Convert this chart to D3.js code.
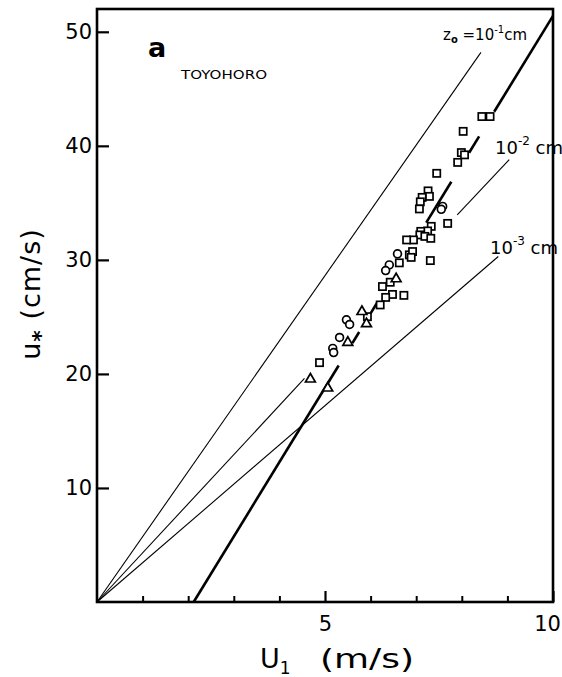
<!DOCTYPE html>
<html><head><meta charset="utf-8">
<script src="https://cdn.jsdelivr.net/npm/d3@7"></script>
<style>body{margin:0;background:#fff}svg{display:block}</style>
</head><body>
<script>
// ---- data ----
const xTicksMinor = [1,2,3,4,5,6,7,8,9];
const xTickLabels = [5, 10];
const yTickLabels = [10, 20, 30, 40, 50];

const squares = [
  [8.44,42.57],[8.62,42.57],[8.03,41.27],[7.99,39.41],[8.06,39.21],[7.91,38.55],
  [7.45,37.59],[7.26,36.05],[7.29,35.57],[7.13,35.48],[7.09,35.09],[7.07,34.47],
  [7.69,33.20],[7.33,32.94],[7.25,32.54],[7.10,32.50],[7.08,32.19],[7.19,32.06],
  [7.32,31.89],[6.94,31.75],[6.79,31.75],[6.85,30.44],[6.92,30.73],[6.89,30.22],
  [7.31,29.94],[6.63,29.74],[6.43,28.04],[6.26,27.66],[6.48,26.97],[6.33,26.71],
  [6.21,26.05],[6.73,26.89],[5.93,25.02],[4.88,20.99]
];
const circles = [
  [7.58,34.69],[7.55,34.43],[6.59,30.53],[6.41,29.56],[6.33,29.06],
  [5.47,24.74],[5.54,24.34],[5.32,23.20],[5.17,22.24],[5.19,21.87]
];
const triangles = [
  [6.56,28.33],[5.81,25.46],[5.91,24.39],[5.50,22.76],[4.68,19.54],[5.06,18.75]
];

// roughness-length reference lines (u* vs U1), as drawn segments
const z0Lines = [
  {label:"1e-1", segs:[[[0,0],[8.42,48.2]]]},
  {label:"1e-2", segs:[[[0,0],[4.55,19.6]],[[7.90,33.95],[9.04,38.8]]]},
  {label:"1e-3", segs:[[[0,0],[8.80,30.3]]]}
];
// fitted (thick) line endpoints and the x-ranges where it is drawn
const fitLine = [[2.12,0],[10.0,51.4]];
const fitVisible = [[2.12,5.30],[5.60,5.75],[6.00,6.14],[7.22,7.77],[8.16,8.38],[8.71,10.0]];

// ---- drawing ----
const W = 562, H = 677;
const svg = d3.select("body").append("svg").attr("width", W).attr("height", H);
const x = d3.scaleLinear([0,10],[97,553]);
const y = d3.scaleLinear([0,52],[602,9]);
const font = "DejaVu Sans, sans-serif";

// frame
svg.append("rect").attr("x", x(0)).attr("y", y(52)).attr("width", x(10)-x(0)).attr("height", y(0)-y(52))
  .attr("fill","none").attr("stroke","#000").attr("stroke-width",2.6);

// x axis minor ticks
const gxm = svg.append("g").attr("transform",`translate(0,${y(0)})`)
  .call(d3.axisBottom(x).tickValues(xTicksMinor.filter(v=>v!==5)).tickSize(-6).tickFormat(""));
gxm.select(".domain").remove();
gxm.selectAll("line").attr("stroke-width",2);
// x axis labeled ticks
const gx = svg.append("g").attr("transform",`translate(0,${y(0)})`)
  .call(d3.axisBottom(x).tickValues(xTickLabels).tickSize(-11).tickPadding(14).tickFormat(d3.format("d")));
gx.select(".domain").remove();
gx.selectAll("line").attr("stroke-width",2.2);
gx.selectAll("text").attr("font-family",font).attr("font-size",21).attr("fill","#000");
gx.selectAll(".tick").filter(d=>d===10).select("text").attr("dx",-6);

// y axis
const gy = svg.append("g").attr("transform",`translate(${x(0)},0)`)
  .call(d3.axisLeft(y).tickValues(yTickLabels).tickSize(-12).tickPadding(5).tickFormat(d3.format("d")));
gy.select(".domain").remove();
gy.selectAll("line").attr("stroke-width",2.2);
gy.selectAll("text").attr("font-family",font).attr("font-size",21).attr("fill","#000");

// z0 lines
const line = d3.line().x(d=>x(d[0])).y(d=>y(d[1]));
z0Lines.forEach(l=>{
  l.segs.forEach(s=>{
    svg.append("path").attr("d", line(s)).attr("fill","none").attr("stroke","#000").attr("stroke-width",1.1);
  });
});

// fitted thick line (broken where points are)
const slope = (fitLine[1][1]-fitLine[0][1])/(fitLine[1][0]-fitLine[0][0]);
const fy = xv => fitLine[0][1] + slope*(xv - fitLine[0][0]);
fitVisible.forEach(r=>{
  svg.append("path").attr("d", line([[r[0],fy(r[0])],[r[1],fy(r[1])]]))
    .attr("fill","none").attr("stroke","#000").attr("stroke-width",2.6);
});

// markers
const mk = {fill:"#fff", stroke:"#000", sw:1.7};
svg.append("g").selectAll("rect").data(squares).join("rect")
  .attr("x",d=>x(d[0])-3.6).attr("y",d=>y(d[1])-3.6).attr("width",7.2).attr("height",7.2)
  .attr("fill",mk.fill).attr("stroke",mk.stroke).attr("stroke-width",mk.sw);
svg.append("g").selectAll("circle").data(circles).join("circle")
  .attr("cx",d=>x(d[0])).attr("cy",d=>y(d[1])).attr("r",3.9)
  .attr("fill",mk.fill).attr("stroke",mk.stroke).attr("stroke-width",mk.sw);
const tri = d3.symbol().type(d3.symbolTriangle).size(42);
svg.append("g").selectAll("path").data(triangles).join("path")
  .attr("d",tri).attr("transform",d=>`translate(${x(d[0])},${y(d[1])})`)
  .attr("fill",mk.fill).attr("stroke",mk.stroke).attr("stroke-width",mk.sw);

// panel labels
svg.append("text").attr("x",148).attr("y",57).attr("font-family",font).attr("font-size",27)
  .attr("font-weight","bold").text("a");
svg.append("text").attr("x",181).attr("y",79).attr("font-family",font).attr("font-size",13)
  .attr("textLength",86).attr("lengthAdjust","spacingAndGlyphs").text("TOYOHORO");

// line labels
const t1 = svg.append("text").attr("x",443).attr("y",40).attr("font-family",font).attr("font-size",15);
t1.append("tspan").text("z");
t1.append("tspan").attr("font-size",10).attr("dy",3).attr("font-weight","bold").text("o");
t1.append("tspan").attr("dy",-3).text(" =10");
t1.append("tspan").attr("font-size",10).attr("dy",-7).text("-1");
t1.append("tspan").attr("dy",7).text("cm");

function expLabel(xp, yp, ex){
  const t = svg.append("text").attr("x",xp).attr("y",yp).attr("font-family",font).attr("font-size",18);
  t.append("tspan").text("10");
  t.append("tspan").attr("font-size",12).attr("dy",-9).text(ex);
  t.append("tspan").attr("dy",9).text(" cm");
}
expLabel(495,154,"-2");
expLabel(490,254,"-3");

// axis titles
const yt = svg.append("text").attr("transform","translate(40,294) rotate(-90)")
  .attr("text-anchor","middle").attr("font-family",font).attr("font-size",27).attr("letter-spacing",1);
yt.append("tspan").text("u");
yt.append("tspan").attr("font-size",22).attr("font-weight","bold").attr("dy",8).text("*");
yt.append("tspan").attr("dy",-8).text(" (cm/s)");

const xt = svg.append("text").attr("x",260).attr("y",668)
  .attr("font-family",font).attr("font-size",27);
xt.append("tspan").text("U");
xt.append("tspan").attr("font-size",17).attr("dy",6).text("1");
svg.append("text").attr("x",320).attr("y",668).attr("font-family",font).attr("font-size",27)
  .attr("textLength",94).attr("lengthAdjust","spacingAndGlyphs").text("(m/s)");
</script>
</body></html>
